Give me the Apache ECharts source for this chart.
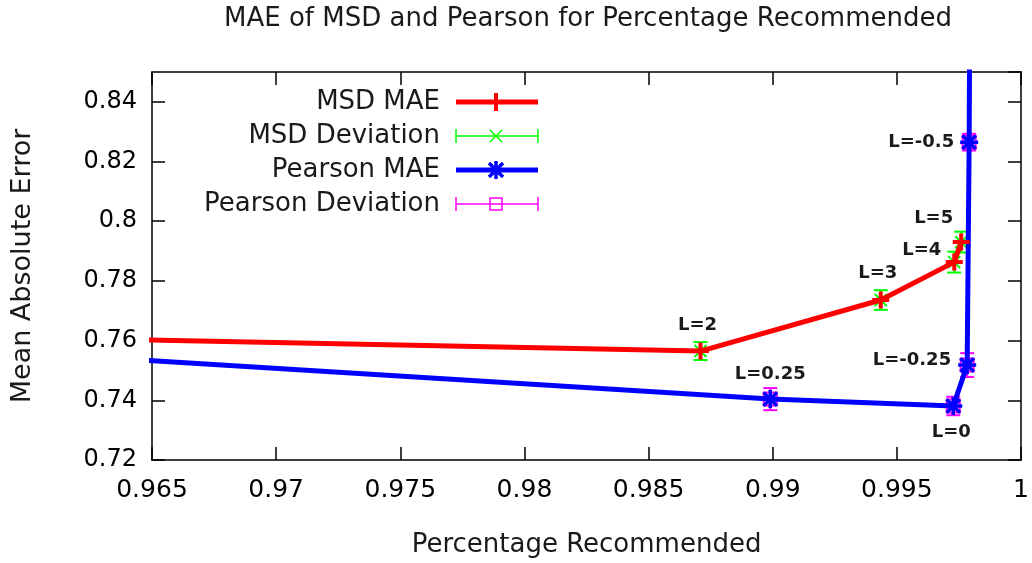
<!DOCTYPE html>
<html>
<head>
<meta charset="utf-8">
<title>MAE of MSD and Pearson for Percentage Recommended</title>
<script src="https://cdn.jsdelivr.net/npm/echarts@6/dist/echarts.min.js"></script>
<style>
  html, body { margin: 0; padding: 0; background: #fff; }
  #chart { width: 1032px; height: 563px; }
</style>
</head>
<body>
<div id="chart"></div>
<script>
// x = percentage recommended, y = mean absolute error
// first point of each run sits left of the plotted range and gets clipped, like in the original
const msdX = [0.955, 0.98709, 0.99435, 0.99731, 0.99759];
const msdMae = [0.7619, 0.7565, 0.7736, 0.7863, 0.7930];
const msdDev = [null, 0.0030, 0.0033, 0.0035, 0.0035];
const msdLabels = ['', 'L=2', 'L=3', 'L=4', 'L=5'];

// last pearson point runs off the top
const pearsonX = [0.955, 0.9899, 0.99727, 0.99783, 0.99791, 0.99795];
const pearsonMae = [0.7584, 0.7404, 0.7381, 0.7518, 0.8265, 0.9];
const pearsonDev = [null, 0.0037, 0.0031, 0.0040, 0.0028, null];
const pearsonLabels = ['', 'L=0.25', 'L=0', 'L=-0.25', 'L=-0.5', ''];

const xTicks = [0.965, 0.97, 0.975, 0.98, 0.985, 0.99, 0.995, 1];
const yTicks = [0.72, 0.74, 0.76, 0.78, 0.8, 0.82, 0.84];

const FONT = 'DejaVu Sans';

// where each point label sits relative to its point: [dx, dy, align]
const labelPlace = {
  'L=2': [-3, -26, 'center'],
  'L=3': [-3, -27, 'center'],
  'L=4': [-13, -12, 'right'],
  'L=5': [-8, -24, 'right'],
  'L=0.25': [0, -25, 'center'],
  'L=0': [-2, 26, 'center'],
  'L=-0.25': [-16, -5, 'right'],
  'L=-0.5': [-15, 0, 'right']
};

const pairs = (xs, ys) => xs.map((x, i) => [x, ys[i]]);

const devData = (xs, ys, devs) => {
  const out = [];
  devs.forEach((d, i) => { if (d != null) out.push([xs[i], ys[i], d, i]); });
  return out;
};

// error bar + point marker + text label, gnuplot style
const errorBarItem = (color, marker, labels) => (params, api) => {
  const x = api.value(0), y = api.value(1), d = api.value(2);
  const c = api.coord([x, y]);
  const top = api.coord([x, y + d])[1];
  const bot = api.coord([x, y - d])[1];
  const cap = 7;
  const st = { stroke: color, lineWidth: 2, fill: 'transparent' };
  const children = [
    { type: 'line', shape: { x1: c[0], y1: top, x2: c[0], y2: bot }, style: st },
    { type: 'line', shape: { x1: c[0] - cap, y1: top, x2: c[0] + cap, y2: top }, style: st },
    { type: 'line', shape: { x1: c[0] - cap, y1: bot, x2: c[0] + cap, y2: bot }, style: st }
  ];
  if (marker === 'cross') {
    const m = 6;
    children.push({ type: 'line', shape: { x1: c[0] - m, y1: c[1] - m, x2: c[0] + m, y2: c[1] + m }, style: st });
    children.push({ type: 'line', shape: { x1: c[0] - m, y1: c[1] + m, x2: c[0] + m, y2: c[1] - m }, style: st });
  } else {
    const m = 6.5;
    children.push({ type: 'rect', shape: { x: c[0] - m, y: c[1] - m, width: 2 * m, height: 2 * m }, style: st });
  }
  const text = labels[api.value(3)];
  const p = labelPlace[text];
  if (text && p) {
    children.push({
      type: 'text',
      x: c[0] + p[0],
      y: c[1] + p[1],
      style: { text, fill: '#1a1a1a', font: 'bold 18px "' + FONT + '"', align: p[2], verticalAlign: 'middle' }
    });
  }
  return { type: 'group', children };
};

// legend drawn by hand: text on the left, sample on the right, like gnuplot's key
const legendItems = [
  { name: 'MSD MAE', y: 102, kind: 'line', color: '#ff0000' },
  { name: 'MSD Deviation', y: 136, kind: 'cross', color: '#00ff00' },
  { name: 'Pearson MAE', y: 170, kind: 'star', color: '#0000ff' },
  { name: 'Pearson Deviation', y: 204, kind: 'square', color: '#ff00ff' }
];

const legendGraphics = () => {
  const els = [];
  const x0 = 456, x1 = 538, xm = 496;
  legendItems.forEach(it => {
    els.push({
      type: 'text', x: 440, y: it.y,
      style: { text: it.name, fill: '#1a1a1a', font: '26px "' + FONT + '"', align: 'right', verticalAlign: 'middle' }
    });
    if (it.kind === 'line' || it.kind === 'star') {
      els.push({ type: 'line', shape: { x1: x0, y1: it.y, x2: x1, y2: it.y }, style: { stroke: it.color, lineWidth: 5 } });
      const m = 9;
      const st = { stroke: it.color, lineWidth: it.kind === 'line' ? 4 : 3.5 };
      els.push({ type: 'line', shape: { x1: xm, y1: it.y - m, x2: xm, y2: it.y + m }, style: st });
      if (it.kind === 'star') {
        els.push({ type: 'line', shape: { x1: xm - m, y1: it.y, x2: xm + m, y2: it.y }, style: st });
        els.push({ type: 'line', shape: { x1: xm - 7, y1: it.y - 7, x2: xm + 7, y2: it.y + 7 }, style: st });
        els.push({ type: 'line', shape: { x1: xm - 7, y1: it.y + 7, x2: xm + 7, y2: it.y - 7 }, style: st });
      }
    } else {
      const st = { stroke: it.color, lineWidth: 1.5, fill: 'transparent' };
      els.push({ type: 'line', shape: { x1: x0, y1: it.y, x2: x1, y2: it.y }, style: st });
      els.push({ type: 'line', shape: { x1: x0, y1: it.y - 7, x2: x0, y2: it.y + 7 }, style: st });
      els.push({ type: 'line', shape: { x1: x1, y1: it.y - 7, x2: x1, y2: it.y + 7 }, style: st });
      if (it.kind === 'cross') {
        els.push({ type: 'line', shape: { x1: xm - 6, y1: it.y - 6, x2: xm + 6, y2: it.y + 6 }, style: st });
        els.push({ type: 'line', shape: { x1: xm - 6, y1: it.y + 6, x2: xm + 6, y2: it.y - 6 }, style: st });
      } else {
        els.push({ type: 'rect', shape: { x: xm - 6, y: it.y - 6, width: 12, height: 12 }, style: st });
      }
    }
  });
  return els;
};

const chart = echarts.init(document.getElementById('chart'));

const frame = { show: true, lineStyle: { color: '#000', width: 1.5 } };
const ticksIn = { show: true, inside: true, length: 13, lineStyle: { color: '#000', width: 1.5 } };

const xBase = {
  type: 'value',
  min: xTicks[0],
  max: xTicks[xTicks.length - 1],
  interval: 0.005,
  axisLine: frame,
  axisTick: ticksIn,
  splitLine: { show: false }
};
const yBase = {
  type: 'value',
  min: yTicks[0],
  max: 0.85,
  interval: 0.02,
  axisLine: frame,
  axisTick: ticksIn,
  splitLine: { show: false }
};

chart.setOption({
  animation: false,
  backgroundColor: '#fff',
  grid: { left: 152, right: 7, top: 72, bottom: 103 },
  graphic: [
    {
      type: 'text', x: 588, y: 19,
      style: { text: 'MAE of MSD and Pearson for Percentage Recommended', fill: '#1a1a1a', font: '26px "' + FONT + '"', align: 'center', verticalAlign: 'middle' }
    },
    ...legendGraphics()
  ],
  xAxis: [
    Object.assign({}, xBase, {
      position: 'bottom',
      name: 'Percentage Recommended',
      nameLocation: 'middle',
      nameGap: 72,
      nameTextStyle: { color: '#1a1a1a', fontSize: 26, fontFamily: FONT },
      axisLabel: { margin: 18, color: '#000', fontSize: 25, fontFamily: FONT, formatter: v => String(+v.toFixed(3)) }
    }),
    Object.assign({}, xBase, { position: 'top', axisLabel: { show: false } })
  ],
  yAxis: [
    Object.assign({}, yBase, {
      position: 'left',
      name: 'Mean Absolute Error',
      nameLocation: 'middle',
      nameGap: 116,
      nameTextStyle: { color: '#1a1a1a', fontSize: 27, fontFamily: FONT },
      axisLabel: { margin: 15, color: '#000', fontSize: 24, fontFamily: FONT, showMaxLabel: false, formatter: v => String(+v.toFixed(2)) }
    }),
    Object.assign({}, yBase, { position: 'right', axisLabel: { show: false } })
  ],
  series: [
    {
      name: 'MSD MAE',
      type: 'line',
      data: pairs(msdX, msdMae),
      clip: true,
      showAllSymbol: true,
      symbol: 'path://M4,0L4,8M0,4L8,4',
      symbolSize: 17,
      lineStyle: { color: '#ff0000', width: 5 },
      itemStyle: { color: '#ff0000', borderColor: '#ff0000', borderWidth: 4 },
      emphasis: { disabled: true }
    },
    {
      name: 'MSD Deviation',
      type: 'custom',
      data: devData(msdX, msdMae, msdDev),
      encode: { x: 0, y: 1 },
      renderItem: errorBarItem('#00ff00', 'cross', msdLabels)
    },
    {
      name: 'Pearson MAE',
      type: 'line',
      data: pairs(pearsonX, pearsonMae),
      clip: true,
      showAllSymbol: true,
      symbol: 'path://M4,0L4,8M0,4L8,4M1,1L7,7M1,7L7,1',
      symbolSize: 18,
      lineStyle: { color: '#0000ff', width: 5 },
      itemStyle: { color: '#0000ff', borderColor: '#0000ff', borderWidth: 3.5 },
      emphasis: { disabled: true }
    },
    {
      name: 'Pearson Deviation',
      type: 'custom',
      data: devData(pearsonX, pearsonMae, pearsonDev),
      encode: { x: 0, y: 1 },
      renderItem: errorBarItem('#ff00ff', 'square', pearsonLabels)
    }
  ]
});
</script>
</body>
</html>
